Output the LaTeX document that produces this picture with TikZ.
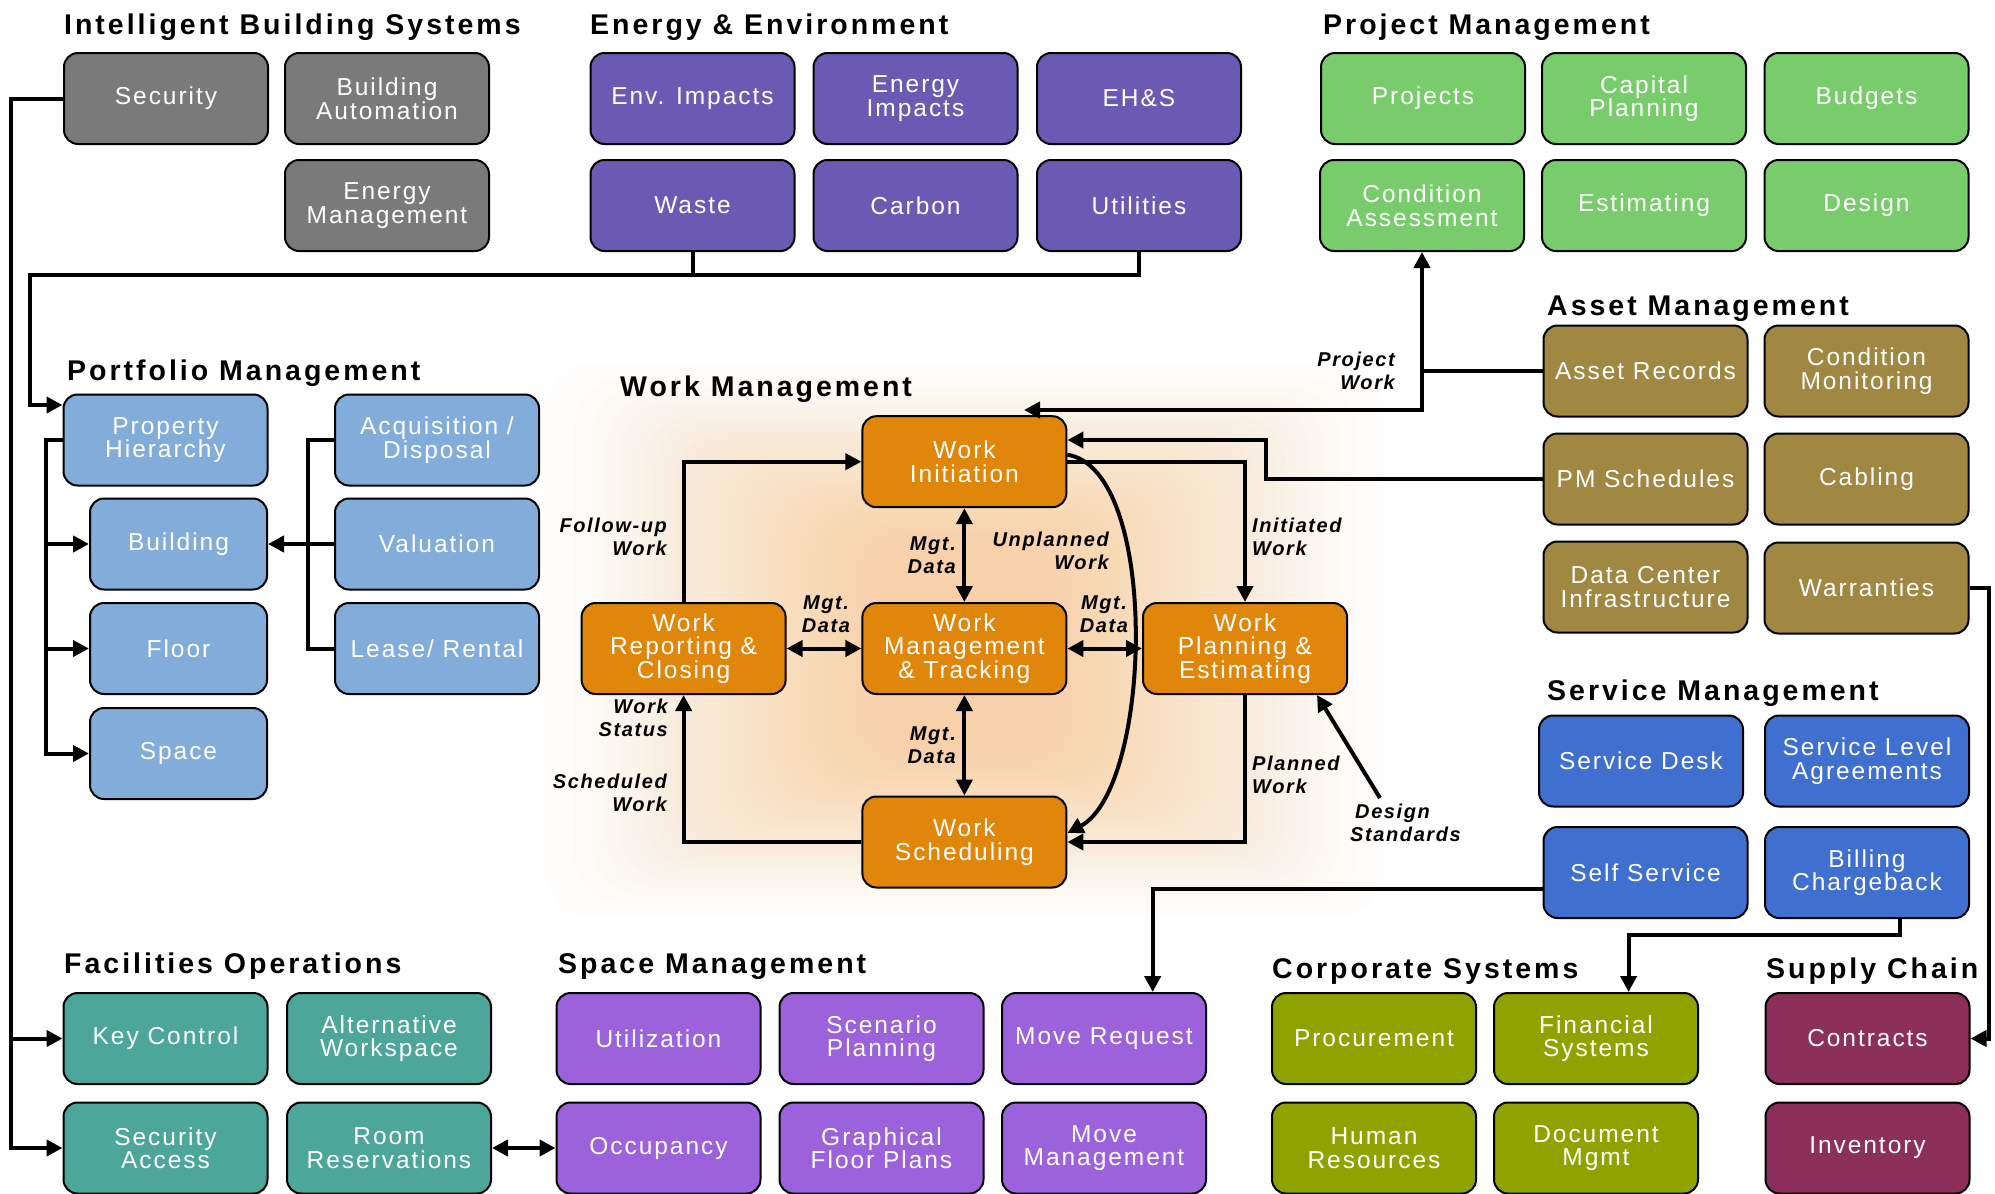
\documentclass[tikz,border=0pt]{standalone}
\usepackage{fontspec}
\setmainfont{Liberation Sans}
\newfontfamily\boxfont{Liberation Sans}[LetterSpace=8]
\newfontfamily\headfont{Liberation Sans}[LetterSpace=10.5]
\newfontfamily\lblfont{Liberation Sans}[LetterSpace=8]
\usetikzlibrary{arrows.meta}
\definecolor{cgrey}{HTML}{7A7A7A}
\definecolor{cenv}{HTML}{6A5AB4}
\definecolor{cproj}{HTML}{78CC6C}
\definecolor{casset}{HTML}{A08842}
\definecolor{cport}{HTML}{82ADDB}
\definecolor{cwork}{HTML}{E0860A}
\definecolor{cserv}{HTML}{3F6FCF}
\definecolor{cfac}{HTML}{4DA69A}
\definecolor{cspace}{HTML}{9B62DB}
\definecolor{ccorp}{HTML}{8FA300}
\definecolor{csup}{HTML}{8C2F5A}
\definecolor{cglow}{HTML}{F8D09A}
\tikzset{
  box/.style={draw=black, line width=2pt, rounded corners=14pt, minimum width=204pt, minimum height=91pt, inner sep=0pt, text=white, align=center, font={\boxfont\fontsize{24.5}{23.5}\selectfont}},
  head/.style={anchor=base west, inner sep=0pt, font={\headfont\bfseries\fontsize{28.5}{31}\selectfont}},
  lbl/.style={inner sep=0pt, font={\lblfont\bfseries\itshape\fontsize{20}{23.5}\selectfont}},
  conn/.style={line width=4pt},
  arr/.style={conn, -{Triangle[length=16pt,width=16pt]}},
  darr/.style={conn, {Triangle[length=16pt,width=16pt]}-{Triangle[length=16pt,width=16pt]}},
}
\begin{document}
\begin{tikzpicture}[x=1pt,y=-1pt]
\fill[white] (0,0) rectangle (1995,1194);
\useasboundingbox (0,0) rectangle (1995,1194);
% glow
\foreach \i in {0,...,39}{
  \pgfmathsetmacro{\f}{((\i+0.01)/39.01)^0.68}
  \fill[cglow, fill opacity=0.034, rounded corners=50pt] ({545+\f*350},{362+\f*190}) rectangle ({1385-\f*350},{918-\f*175});
}
% headings
\node[head] (hIBS) at (64,34) {Intelligent Building Systems};
\node[head] (hEE) at (590,34) {Energy \& Environment};
\node[head] (hPM) at (1323,34) {Project Management};
\node[head] (hAM) at (1547,315) {Asset Management};
\node[head] (hPF) at (67,380) {Portfolio Management};
\node[head] (hWM) at (620,396) {Work Management};
\node[head] (hSM) at (1547,700) {Service Management};
\node[head] (hFO) at (64,973) {Facilities Operations};
\node[head] (hSP) at (558,973) {Space Management};
\node[head] (hCS) at (1272,978) {Corporate Systems};
\node[head] (hSC) at (1766,978) {Supply Chain};
% IBS
\node[box, fill=cgrey] (sec) at (166,98.5) {Security};
\node[box, fill=cgrey] (ba) at (387,98.5) {Building\\Automation};
\node[box, fill=cgrey] (em) at (387,205.5) {Energy\\Management};
% Energy & Environment
\node[box, fill=cenv] (envi) at (692.5,98.5) {Env. Impacts};
\node[box, fill=cenv] (eni) at (915.5,98.5) {Energy\\Impacts};
\node[box, fill=cenv] (ehs) at (1139,98.5) {EH\&S};
\node[box, fill=cenv] (waste) at (692.5,205.5) {Waste};
\node[box, fill=cenv] (carbon) at (915.5,205.5) {Carbon};
\node[box, fill=cenv] (util) at (1139,205.5) {Utilities};
% Project Management
\node[box, fill=cproj] (proj) at (1423,98.5) {Projects};
\node[box, fill=cproj] (cap) at (1644,98.5) {Capital\\Planning};
\node[box, fill=cproj] (bud) at (1866.5,98.5) {Budgets};
\node[box, fill=cproj] (ca) at (1422,205.5) {Condition\\Assessment};
\node[box, fill=cproj] (est) at (1644,205.5) {Estimating};
\node[box, fill=cproj] (des) at (1866.5,205.5) {Design};
% Asset Management
\node[box, fill=casset] (ar) at (1645.5,371) {Asset Records};
\node[box, fill=casset] (cm) at (1866.5,371) {Condition\\Monitoring};
\node[box, fill=casset] (pms) at (1645.5,479) {PM Schedules};
\node[box, fill=casset] (cab) at (1866.5,479) {Cabling};
\node[box, fill=casset] (dci) at (1645.5,587) {Data Center\\Infrastructure};
\node[box, fill=casset] (war) at (1866.5,588) {Warranties};
% Portfolio
\node[box, fill=cport] (ph) at (165.5,440) {Property\\Hierarchy};
\node[box, fill=cport, minimum width=177pt] (bld) at (178.5,544) {Building};
\node[box, fill=cport, minimum width=177pt] (flr) at (178.5,648.5) {Floor};
\node[box, fill=cport, minimum width=177pt] (spc) at (178.5,753.5) {Space};
\node[box, fill=cport] (acq) at (437,440) {Acquisition /\\Disposal};
\node[box, fill=cport] (val) at (437,544) {Valuation};
\node[box, fill=cport] (lea) at (437,648.5) {Lease/ Rental};
% Work Management
\node[box, fill=cwork] (wi) at (964.4,461.7) {Work\\Initiation};
\node[box, fill=cwork] (wr) at (683.6,648.5) {Work\\Reporting \&\\Closing};
\node[box, fill=cwork] (wmt) at (964.4,648.5) {Work\\Management\\\& Tracking};
\node[box, fill=cwork] (wp) at (1245,648.5) {Work\\Planning \&\\Estimating};
\node[box, fill=cwork] (ws) at (964.4,842) {Work\\Scheduling};
% Service Management
\node[box, fill=cserv] (sd) at (1641,761) {Service Desk};
\node[box, fill=cserv] (sla) at (1867,761) {Service Level\\Agreements};
\node[box, fill=cserv] (ss) at (1645.5,872.5) {Self Service};
\node[box, fill=cserv] (bc) at (1867,872.5) {Billing\\Chargeback};
% Facilities Operations
\node[box, fill=cfac] (kc) at (165.5,1038.5) {Key Control};
\node[box, fill=cfac] (aw) at (389,1038.5) {Alternative\\Workspace};
\node[box, fill=cfac] (sa) at (165.5,1148) {Security\\Access};
\node[box, fill=cfac] (rr) at (389,1148) {Room\\Reservations};
% Space Management
\node[box, fill=cspace] (utl) at (658.5,1038.5) {Utilization};
\node[box, fill=cspace] (scp) at (881.5,1038.5) {Scenario\\Planning};
\node[box, fill=cspace] (mr) at (1104,1038.5) {Move Request};
\node[box, fill=cspace] (occ) at (658.5,1148) {Occupancy};
\node[box, fill=cspace] (gfp) at (881.5,1148) {Graphical\\Floor Plans};
\node[box, fill=cspace] (mm) at (1104,1148) {Move\\Management};
% Corporate Systems
\node[box, fill=ccorp] (proc) at (1374,1038.5) {Procurement};
\node[box, fill=ccorp] (fin) at (1596,1038.5) {Financial\\Systems};
\node[box, fill=ccorp] (hr) at (1374,1148) {Human\\Resources};
\node[box, fill=ccorp] (dm) at (1596,1148) {Document\\Mgmt};
% Supply Chain
\node[box, fill=csup] (con) at (1867.5,1038.5) {Contracts};
\node[box, fill=csup] (inv) at (1867.5,1148) {Inventory};
% coordinates
\coordinate (busL) at (11,0);
\coordinate (eeBus) at (30,275);
\coordinate (phIn) at ([yshift=35pt]ph.west);
\coordinate (phBus) at (46,0);
\coordinate (vBus) at (308,0);
\coordinate (pw) at (1422,410);
\coordinate (wiTop) at (1024,410);
\coordinate (pmx) at (1266,0);
\coordinate (wiR) at ([yshift=21.7pt]wi.east);
\coordinate (dsS) at (1380,798);
\coordinate (ssOut) at ([yshift=-16pt]ss.west);
\coordinate (mrIn) at ([xshift=48.7pt]mr.north);
\coordinate (bcOut) at ([xshift=33pt]bc.south);
\coordinate (finIn) at ([xshift=32.6pt]fin.north);
\coordinate (bcy) at (0,935);
\coordinate (busR) at (1989,0);
% connectors
\draw[arr] (sec.west) -- (sec.west -| busL) -- (sa.west -| busL) -- (sa.west);
\draw[arr] (kc.west -| busL) -- (kc.west);
\draw[conn] (waste.south) -- (waste.south |- eeBus);
\draw[arr] (util.south) -- (util.south |- eeBus) -- (eeBus) -- (eeBus |- phIn) -- (phIn);
\draw[arr] (ph.west) -- (ph.west -| phBus) -- (spc.west -| phBus) -- (spc.west);
\draw[arr] (bld.west -| phBus) -- (bld.west);
\draw[arr] (flr.west -| phBus) -- (flr.west);
\draw[conn] (acq.west) -- (acq.west -| vBus) -- (lea.west -| vBus) -- (lea.west);
\draw[arr] (val.west) -- (bld.east);
\draw[conn] (ar.west) -- (ar.west -| pw);
\draw[darr] (wiTop) -- (pw) -- (pw |- ca.south);
\draw[arr] (pms.west) -- (pms.west -| pmx) -- (pmx |- wiR) -- (wiR);
\draw[arr] (wr.north) |- (wi.west);
\draw[arr] (wi.east) -| (wp.north);
\draw[arr] (wp.south) |- (ws.east);
\draw[arr] (ws.west) -| (wr.south);
\draw[darr] (wi.south) -- (wmt.north);
\draw[darr] (wmt.south) -- (ws.north);
\draw[darr] (wr.east) -- (wmt.west);
\draw[darr] (wmt.east) -- (wp.west);
\draw[arr] ([yshift=7pt]wi.east) .. controls +(93,15) and +(85,-45) .. ([yshift=9pt]ws.east);
\draw[arr] (dsS) -- ([xshift=-31pt]wp.south east);
\draw[arr] (ssOut) -| (mrIn);
\draw[arr] (bcOut) -- (bcOut |- bcy) -| (finIn);
\draw[arr] (war.east) -- (war.east -| busR) -- (con.east -| busR) -- (con.east);
\draw[darr] (rr.east) -- (occ.west);
% labels
\node[lbl, anchor=east, align=right] (lPW) at (1395,371) {Project\\Work};
\node[lbl, anchor=east, align=right] (lFW) at (667,537) {Follow-up\\Work};
\node[lbl, anchor=west, align=left] (lIW) at (1252,537) {Initiated\\Work};
\node[lbl, anchor=west, align=left] (lPlW) at (1252,775) {Planned\\Work};
\node[lbl, anchor=east, align=right] (lSW) at (667,793) {Scheduled\\Work};
\node[lbl, anchor=east, align=right] (lWS) at (668,718) {Work\\Status};
\node[lbl, anchor=east, align=right] (lMD1) at (956,555) {Mgt.\\Data};
\node[lbl, anchor=east, align=right] (lMD2) at (956,745) {Mgt.\\Data};
\node[lbl, align=center] (lMD3) at (826,614) {Mgt.\\Data};
\node[lbl, align=center] (lMD4) at (1104,614) {Mgt.\\Data};
\node[lbl, anchor=east, align=right] (lUW) at (1109,551) {Unplanned\\Work};
\node[lbl, anchor=west, align=left] (lDS) at (1350,823) {\hspace*{5pt}Design\\Standards};
\end{tikzpicture}
\end{document}
